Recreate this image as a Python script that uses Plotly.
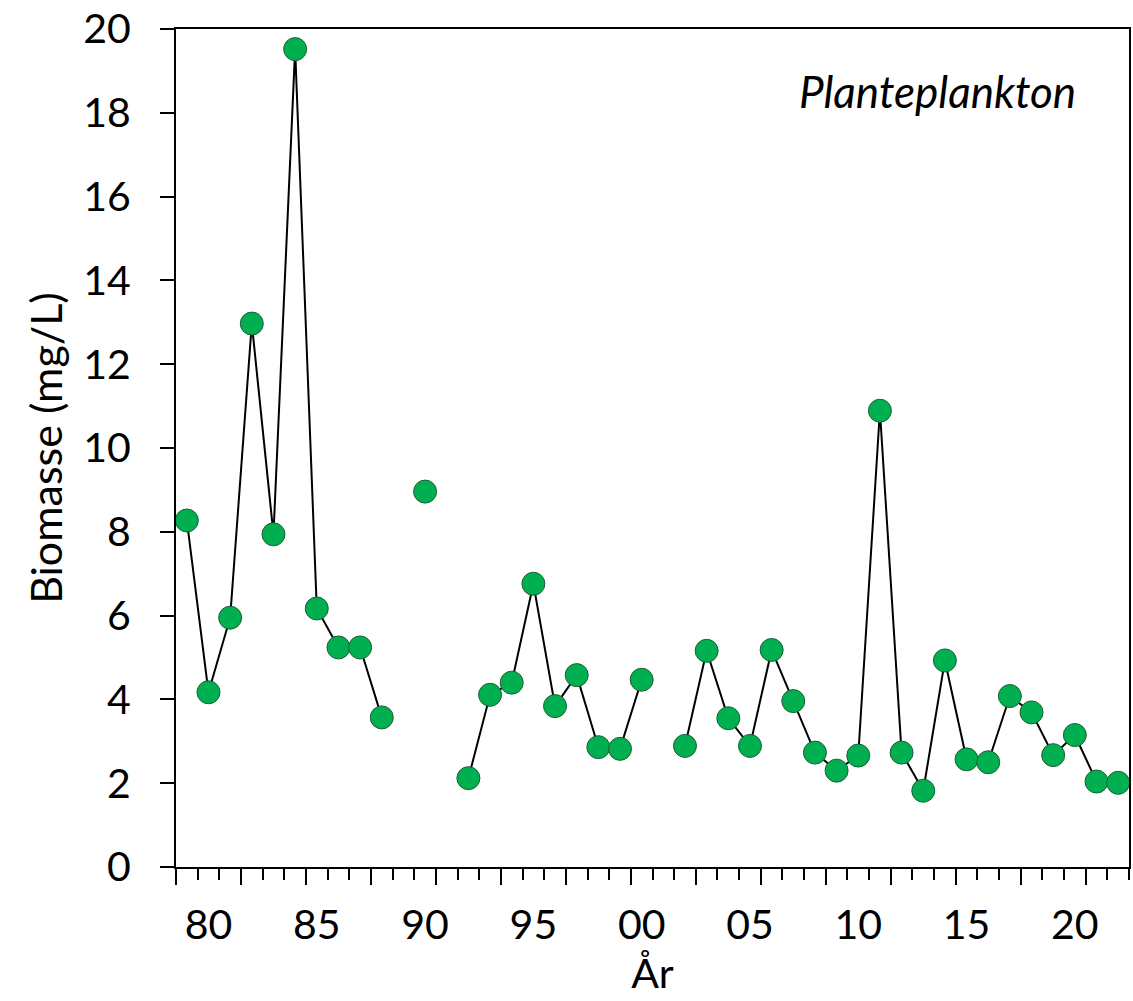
import plotly.graph_objects as go

# ---- data ----
years = [1979, 1980, 1981, 1982, 1983, 1984, 1985, 1986, 1987, 1988,
         1989, 1990, 1991, 1992, 1993, 1994, 1995, 1996, 1997, 1998,
         1999, 2000, 2001, 2002, 2003, 2004, 2005, 2006, 2007, 2008,
         2009, 2010, 2011, 2012, 2013, 2014, 2015, 2016, 2017, 2018,
         2019, 2020, 2021, 2022]
biomasse = [8.27, 4.17, 5.95, 12.97, 7.94, 19.52, 6.17, 5.24, 5.24, 3.57,
            None, 8.96, None, 2.12, 4.11, 4.40, 6.76, 3.84, 4.58, 2.86,
            2.82, 4.47, None, 2.89, 5.16, 3.55, 2.89, 5.18, 3.96, 2.73,
            2.30, 2.66, 10.89, 2.73, 1.82, 4.93, 2.57, 2.50, 4.08, 3.69,
            2.67, 3.15, 2.04, 2.01]
label_years = [1980, 1985, 1990, 1995, 2000, 2005, 2010, 2015, 2020]
label_text = ["80", "85", "90", "95", "00", "05", "10", "15", "20"]
y_ticks = [0, 2, 4, 6, 8, 10, 12, 14, 16, 18, 20]

FONT = "Lato"
TICK_FS = 41
TITLE_FS = 43

# category boundaries (ticks between categories, Excel style)
bounds = [y - 0.5 for y in years] + [years[-1] + 0.5]
long_bounds = bounds[::3]

fig = go.Figure()
fig.add_trace(go.Scatter(
    x=years, y=biomasse, mode="lines+markers", connectgaps=False,
    line=dict(color="black", width=2),
    marker=dict(size=23, color="#00B050", line=dict(color="#1d5e33", width=1)),
    showlegend=False, hoverinfo="x+y"))
fig.add_trace(go.Scatter(
    x=label_years, y=[None] * len(label_years), xaxis="x2", mode="markers",
    showlegend=False, hoverinfo="skip"))

fig.update_layout(
    width=1133, height=1001,
    margin=dict(l=176, r=2, t=29, b=134),
    paper_bgcolor="white", plot_bgcolor="white",
    font=dict(family=FONT, size=TICK_FS, color="black"),
    xaxis=dict(
        range=[bounds[0], bounds[-1]],
        tickmode="array", tickvals=long_bounds,
        ticks="outside", ticklen=16, tickwidth=2, tickcolor="black",
        showticklabels=False,
        minor=dict(tickvals=bounds, ticks="outside", ticklen=11,
                   tickwidth=2, tickcolor="black", showgrid=False),
        showline=True, linewidth=2, linecolor="black", mirror=True,
        showgrid=False, zeroline=False,
    ),
    xaxis2=dict(
        overlaying="x", anchor="y", side="bottom",
        range=[bounds[0], bounds[-1]],
        tickmode="array", tickvals=label_years, ticktext=label_text,
        ticks="", showline=False, showgrid=False, zeroline=False,
        ticklabelstandoff=30,
        tickfont=dict(family=FONT, size=TICK_FS),
        title=dict(text="År", font=dict(family=FONT, size=TICK_FS), standoff=12),
    ),
    yaxis=dict(
        range=[0, 20], tickmode="array", tickvals=y_ticks,
        ticks="outside", ticklen=14, tickwidth=2, tickcolor="black",
        showline=True, linewidth=2, linecolor="black", mirror=True,
        showgrid=False, zeroline=False,
        tickfont=dict(family=FONT, size=TICK_FS),
        ticklabelstandoff=21,
        title=dict(text="Biomasse (mg/L)", font=dict(family=FONT, size=TITLE_FS),
                   standoff=7),
    ),
    annotations=[dict(
        text="<i>Planteplankton</i>", xref="paper", yref="paper",
        x=0.799, y=0.926, xanchor="center", yanchor="middle",
        showarrow=False, font=dict(family=FONT, size=44, color="black"))],
)

fig.write_html("out.html", config={"displayModeBar": False},
               post_script="document.body.style.margin='0';")
